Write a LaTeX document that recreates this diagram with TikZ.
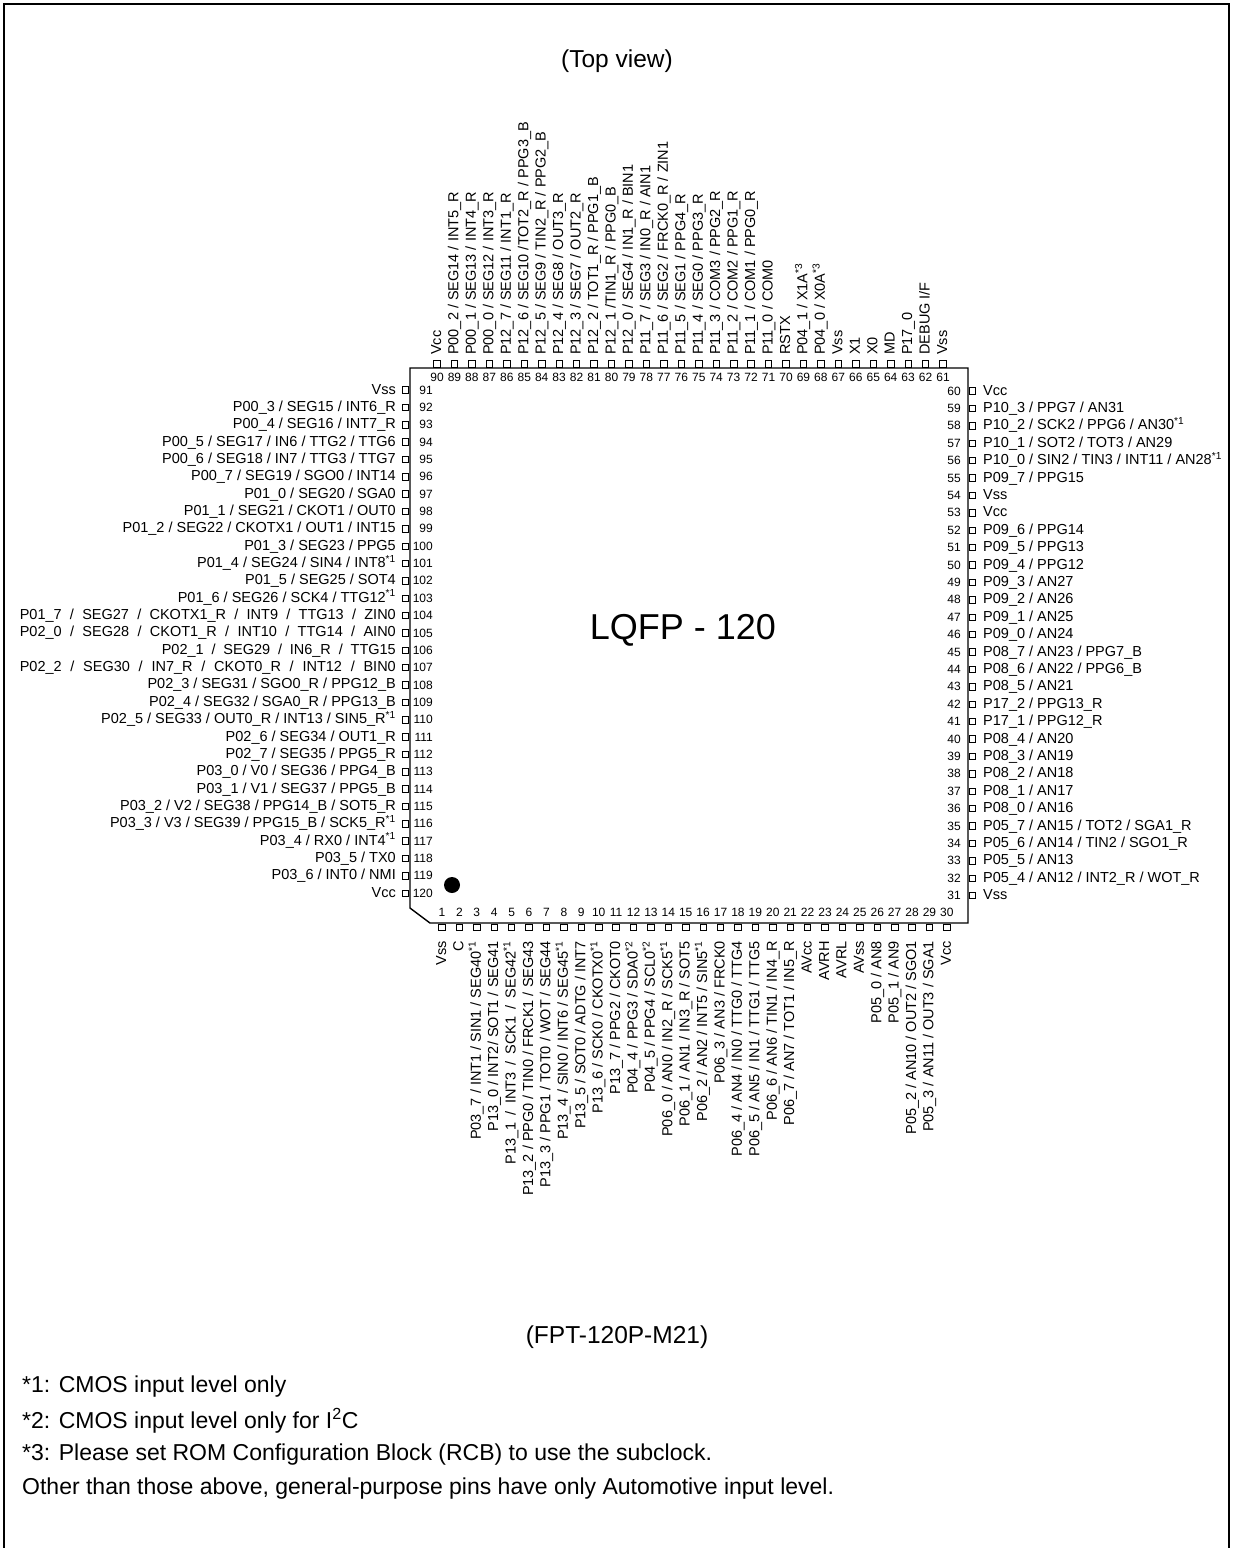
\documentclass[tikz,border=0pt]{standalone}
\usepackage{fontspec}
\setmainfont{Liberation Sans}
\begin{document}
\begin{tikzpicture}[
    x=1pt, y=-1pt,
    pin box/.style={draw, minimum size=6.5pt, inner sep=0pt, line width=0.8pt},
    pin label/.style={inner sep=0pt, font=\fontsize{14.5}{17}\selectfont,
        text height=10.5pt, text depth=2.5pt},
    pin num/.style={inner sep=0pt, font=\fontsize{12}{14}\selectfont},
    title/.style={font=\fontsize{24.5}{29}\selectfont},
    note/.style={anchor=west, inner sep=0pt, font=\fontsize{23}{27}\selectfont}
]
    \useasboundingbox (0,0) rectangle (1233,1548);
    \draw[line width=1.5pt] (4,1548) -- (4,4) -- (1229,4) -- (1229,1548);

    % package body
    \draw[line width=1.4pt] (410,368) -- (968,368) -- (968,923)
        -- (430,923) -- (410,908) -- cycle;
    \fill (452,885) circle (8);
    \node[font=\fontsize{36}{40}\selectfont] (pkg) at (683,630) {LQFP - 120};

    % top side, 90 ... 61
    \foreach \t [count=\i] in {Vcc, P00\_2 / SEG14 / INT5\_R,
        P00\_1 / SEG13 / INT4\_R, P00\_0 / SEG12 / INT3\_R,
        P12\_7 / SEG11 / INT1\_R, P12\_6 / SEG10 /TOT2\_R / PPG3\_B,
        P12\_5 / SEG9 / TIN2\_R / PPG2\_B, P12\_4 / SEG8 / OUT3\_R,
        P12\_3 / SEG7 / OUT2\_R, P12\_2 / TOT1\_R / PPG1\_B,
        P12\_1 /TIN1\_R / PPG0\_B, P12\_0 / SEG4 / IN1\_R / BIN1,
        P11\_7 / SEG3 / IN0\_R / AIN1, P11\_6 / SEG2 / FRCK0\_R / ZIN1,
        P11\_5 / SEG1 / PPG4\_R, P11\_4 / SEG0 / PPG3\_R,
        P11\_3 / COM3 / PPG2\_R, P11\_2 / COM2 / PPG1\_R,
        P11\_1 / COM1 / PPG0\_R, P11\_0 / COM0, RSTX,
        P04\_1 / X1A\textsuperscript{*3}, P04\_0 / X0A\textsuperscript{*3},
        Vss, X1, X0, MD, P17\_0, DEBUG I/F, Vss} {
        \pgfmathsetmacro\px{437+(\i-1)*17.45}
        \pgfmathtruncatemacro\n{91-\i}
        \node[pin box] (p\n) at (\px,364) {};
        \node[pin label, rotate=90, anchor=west] (l\n) at (\px,355) {\t};
        \node[pin num] (n\n) at (\px,377) {\n};
    }

    % left side, 91 ... 120
    \foreach \t [count=\i] in {Vss, P00\_3 / SEG15 / INT6\_R,
        P00\_4 / SEG16 / INT7\_R, P00\_5 / SEG17 / IN6 / TTG2 / TTG6,
        P00\_6 / SEG18 / IN7 / TTG3 / TTG7, P00\_7 / SEG19 / SGO0 / INT14,
        P01\_0 / SEG20 / SGA0, P01\_1 / SEG21 / CKOT1 / OUT0,
        P01\_2 / SEG22 / CKOTX1 / OUT1 / INT15, P01\_3 / SEG23 / PPG5,
        P01\_4 / SEG24 / SIN4 / INT8\textsuperscript{*1}, P01\_5 / SEG25 / SOT4,
        P01\_6 / SEG26 / SCK4 / TTG12\textsuperscript{*1},
        {\makebox[376pt][s]{P01\_7 / SEG27 / CKOTX1\_R / INT9 / TTG13 / ZIN0}},
        {\makebox[376pt][s]{P02\_0 / SEG28 / CKOT1\_R / INT10 / TTG14 / AIN0}},
        {\makebox[234pt][s]{P02\_1 / SEG29 / IN6\_R / TTG15}},
        {\makebox[376pt][s]{P02\_2 / SEG30 / IN7\_R / CKOT0\_R / INT12 / BIN0}},
        P02\_3 / SEG31 / SGO0\_R / PPG12\_B, P02\_4 / SEG32 / SGA0\_R / PPG13\_B,
        P02\_5 / SEG33 / OUT0\_R / INT13 / SIN5\_R\textsuperscript{*1},
        P02\_6 / SEG34 / OUT1\_R, P02\_7 / SEG35 / PPG5\_R,
        P03\_0 / V0 / SEG36 / PPG4\_B, P03\_1 / V1 / SEG37 / PPG5\_B,
        P03\_2 / V2 / SEG38 / PPG14\_B / SOT5\_R,
        P03\_3 / V3 / SEG39 / PPG15\_B / SCK5\_R\textsuperscript{*1},
        P03\_4 / RX0 / INT4\textsuperscript{*1}, P03\_5 / TX0,
        P03\_6 / INT0 / NMI, Vcc} {
        \pgfmathsetmacro\py{390+(\i-1)*17.35}
        \pgfmathtruncatemacro\n{90+\i}
        \node[pin box] (p\n) at (405.5,\py) {};
        \node[pin label, anchor=east] (l\n) at (396,\py) {\t};
        \node[pin num, anchor=east] (n\n) at (433,\py) {\n};
    }

    % bottom side, 1 ... 30
    \foreach \t [count=\i] in {Vss, C, P03\_7 / INT1 / SIN1 / SEG40\textsuperscript{*1},
        P13\_0 / INT2/ SOT1 / SEG41,
        {\makebox[223pt][s]{P13\_1 / INT3 / SCK1 / SEG42\textsuperscript{*1}}},
        P13\_2 / PPG0 / TIN0 / FRCK1 / SEG43, P13\_3 / PPG1 / TOT0 / WOT / SEG44,
        P13\_4 / SIN0 / INT6 / SEG45\textsuperscript{*1}, P13\_5 / SOT0 / ADTG / INT7,
        P13\_6 / SCK0 / CKOTX0\textsuperscript{*1}, P13\_7 / PPG2 / CKOT0,
        P04\_4 / PPG3 / SDA0\textsuperscript{*2}, P04\_5 / PPG4 / SCL0\textsuperscript{*2},
        P06\_0 / AN0 / IN2\_R / SCK5\textsuperscript{*1}, P06\_1 / AN1 / IN3\_R / SOT5,
        P06\_2 / AN2 / INT5 / SIN5\textsuperscript{*1}, P06\_3 / AN3 / FRCK0,
        P06\_4 / AN4 / IN0 / TTG0 / TTG4, P06\_5 / AN5 / IN1 / TTG1 / TTG5,
        P06\_6 / AN6 / TIN1 / IN4\_R, P06\_7 / AN7 / TOT1 / IN5\_R,
        AVcc, AVRH, AVRL, AVss, P05\_0 / AN8, P05\_1 / AN9,
        P05\_2 / AN10 / OUT2 / SGO1, P05\_3 / AN11 / OUT3 / SGA1, Vcc} {
        \pgfmathsetmacro\px{442+(\i-1)*17.41}
        \node[pin box] (p\i) at (\px,927.5) {};
        \node[pin label, rotate=90, anchor=east] (l\i) at (\px,941) {\t};
        \node[pin num] (n\i) at (\px,912) {\i};
    }

    % right side, 60 ... 31
    \foreach \t [count=\i] in {Vcc, P10\_3 / PPG7 / AN31,
        P10\_2 / SCK2 / PPG6 / AN30\textsuperscript{*1}, P10\_1 / SOT2 / TOT3 / AN29,
        P10\_0 / SIN2 / TIN3 / INT11 / AN28\textsuperscript{*1}, P09\_7 / PPG15,
        Vss, Vcc, P09\_6 / PPG14, P09\_5 / PPG13, P09\_4 / PPG12,
        P09\_3 / AN27, P09\_2 / AN26, P09\_1 / AN25, P09\_0 / AN24,
        P08\_7 / AN23 / PPG7\_B, P08\_6 / AN22 / PPG6\_B, P08\_5 / AN21,
        P17\_2 / PPG13\_R, P17\_1 / PPG12\_R, P08\_4 / AN20, P08\_3 / AN19,
        P08\_2 / AN18, P08\_1 / AN17, P08\_0 / AN16,
        P05\_7 / AN15 / TOT2 / SGA1\_R, P05\_6 / AN14 / TIN2 / SGO1\_R,
        P05\_5 / AN13, P05\_4 / AN12 / INT2\_R / WOT\_R, Vss} {
        \pgfmathsetmacro\py{391+(\i-1)*17.4}
        \pgfmathtruncatemacro\n{61-\i}
        \node[pin box] (p\n) at (972.5,\py) {};
        \node[pin label, anchor=west] (l\n) at (983,\py) {\t};
        \node[pin num, anchor=east] (n\n) at (961,\py) {\n};
    }

    \node[title] (view) at (617,61) {(Top view)};
    \node[title] (code) at (617,1337) {(FPT-120P-M21)};

    % notes
    \node[note] (note1) at (22,1387) {*1: CMOS input level only};
    \node[note] (note2) at (22,1421) {*2: CMOS input level only for I\textsuperscript{2}C};
    \node[note] (note3) at (22,1455) {*3: Please set ROM Configuration Block (RCB) to use the subclock.};
    \node[note] (note4) at (22,1489) {Other than those above, general-purpose pins have only Automotive input level.};
\end{tikzpicture}
\end{document}
